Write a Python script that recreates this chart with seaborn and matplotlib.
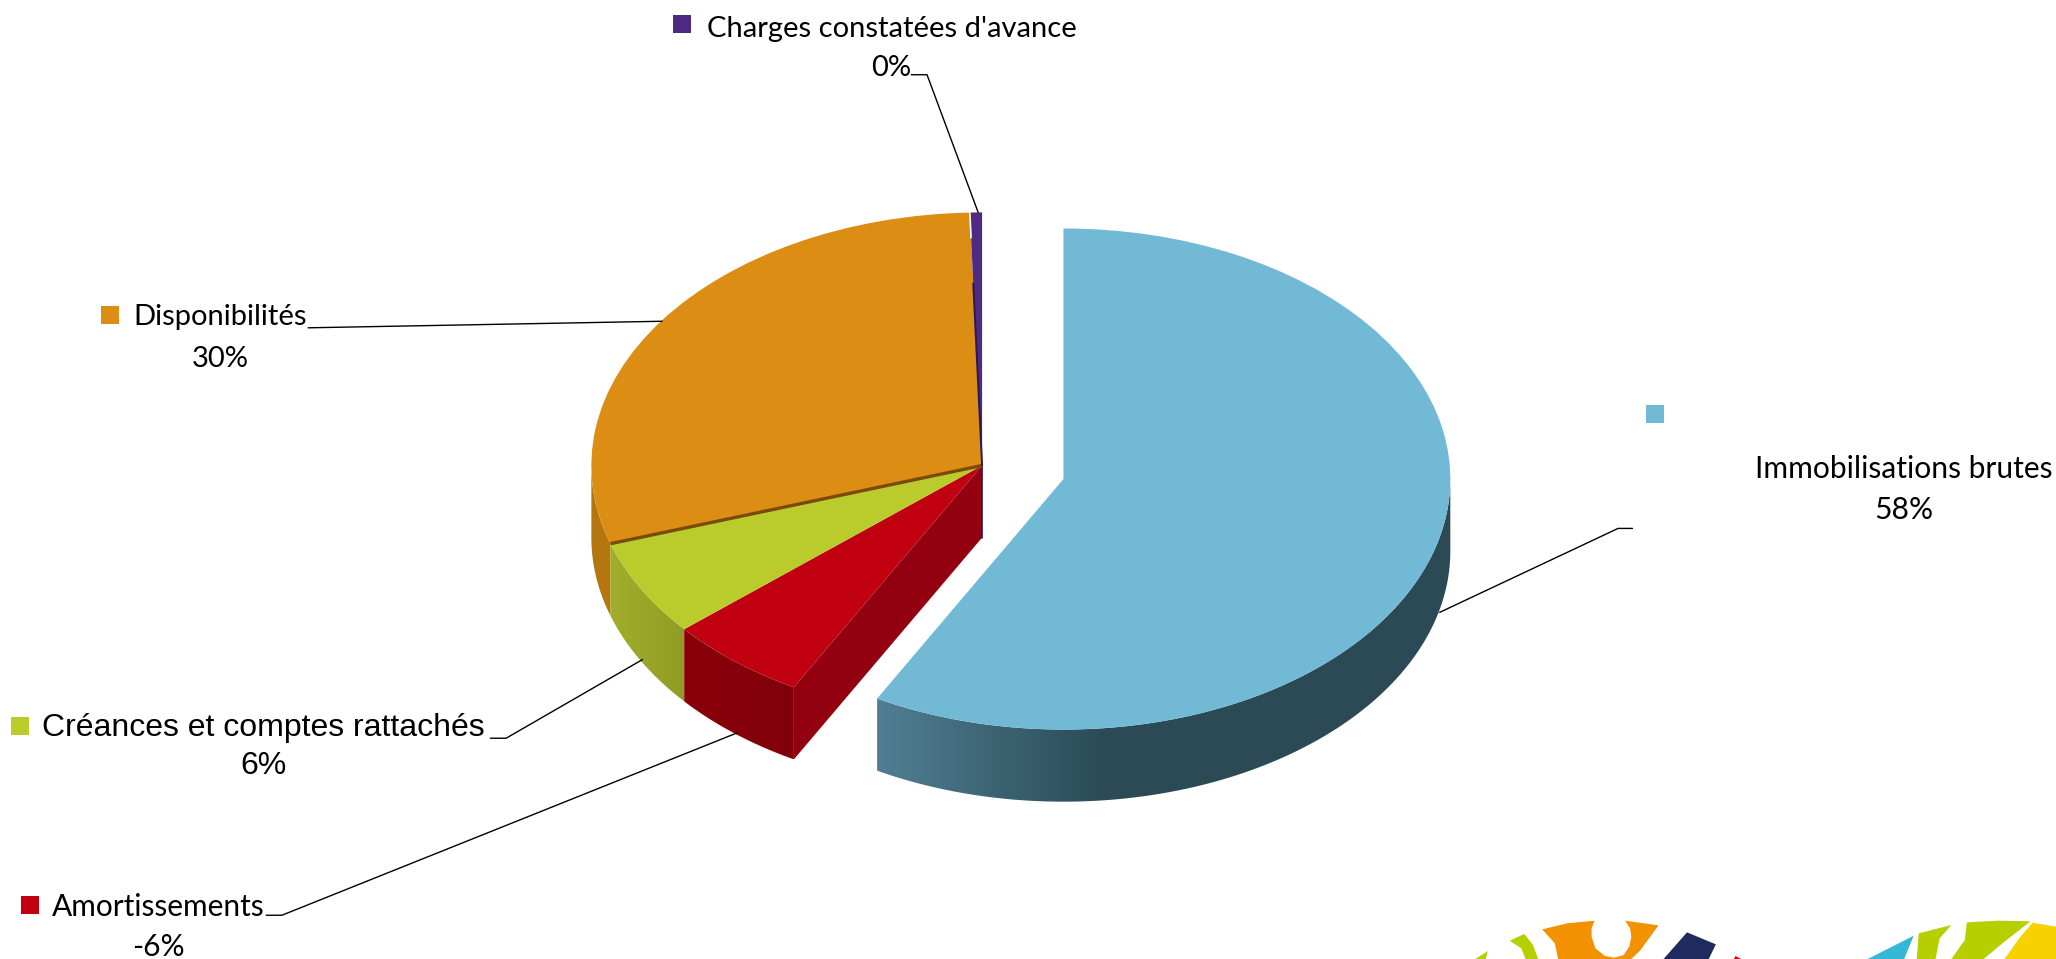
import numpy as np
import matplotlib
matplotlib.use("Agg")
import matplotlib.pyplot as plt
from matplotlib.patches import Polygon
from matplotlib.transforms import Affine2D
import seaborn as sns

categories = ["Immobilisations brutes", "Amortissements", "Créances et comptes rattachés",
              "Disponibilités", "Charges constatées d'avance"]
values = [58, 5.8, 6.2, 29.5, 0.5]
value_labels = ["58%", "-6%", "6%", "30%", "0%"]
explode = [0.215, 0, 0, 0, 0]
colors = ["#71B9D5", "#C00010", "#BACC2C", "#DC8D13", "#4F2A83"]

W, H = 2056, 959
S = 2056 / 1568  # coords below were read on the shrunk picture
CX, CY = 749 * S, 355 * S
RX, RY = 298 * S, 193 * S
DEPTH = 55 / 193
BLUE_R = 0.99

sns.set_theme(style="white")
plt.rcParams["font.family"] = ["Lato", "DejaVu Sans"]

fig = plt.figure(figsize=(W / 100, H / 100), dpi=100)
ax = fig.add_axes([0, 0, 1, 1])
px = Affine2D().scale(S, -S).translate(0, H)


def wall(a0, a1, stops, off=(0, 0), r=1):
    # side of the disc between two angles, left to right gradient clipped to the shape
    t = np.radians(np.linspace(a0, a1, 200))
    xs = off[0] + r * np.cos(t)
    ys = off[1] + r * np.sin(t)
    shape = Polygon(np.c_[np.r_[xs, xs[::-1]], np.r_[ys, ys[::-1] - DEPTH]],
                    closed=True, transform=ax.transData)
    shades = np.array(sns.blend_palette(stops, 256))[None, :, :]
    im = ax.imshow(shades, extent=(xs.min(), xs.max(), ys.min() - DEPTH, ys.max()),
                   aspect="auto", zorder=1, interpolation="bilinear")
    im.set_clip_path(shape)


wedges, _ = ax.pie(values, colors=sns.color_palette(colors), explode=explode, startangle=90,
                   counterclock=False, radius=1, frame=True, wedgeprops={"linewidth": 0})
for w in wedges:
    w.set_zorder(3)
wedges[0].set_radius(BLUE_R)

# slice edges, clockwise from the top
edges = 90 - np.cumsum(values) / sum(values) * 360
blue_end, red_end, green_end, orange_end = edges[:4]
mid = np.radians((90 + blue_end) / 2)
off = (explode[0] * np.cos(mid), explode[0] * np.sin(mid))

# blue wall: gradient up to the front of the disc, then flat dark
wall(blue_end, 0, ["#4F7F93", "#3D6474", "#2B4A56", "#2B4A56", "#2B4A56", "#2B4A56"], off, BLUE_R)
wall(-180, green_end, ["#B5760F", "#B5760F"])
wall(green_end, red_end, ["#A1AF2C", "#909C24"])
wall(red_end, blue_end, ["#8A000B", "#80000A"])

ax.set_aspect("auto")
ax.set_xlim(-CX / RX, (W - CX) / RX)
ax.set_ylim(-(H - CY) / RY, CY / RY)
ax.set_xticks([])
ax.set_yticks([])
for sp in ax.spines.values():
    sp.set_visible(False)

# cut face of the red slice and thin faces next to it
t = np.radians(blue_end)
ax.fill([0, np.cos(t), np.cos(t), 0], [0, np.sin(t), np.sin(t) - DEPTH, -DEPTH],
        color="#93000F", lw=0, zorder=2)
ax.plot([0, 0], [0, -DEPTH], color="#2A1850", lw=1.2, zorder=2)
t = np.radians(green_end)
ax.plot([0, np.cos(t)], [0, np.sin(t)], color="#7A4A0A", lw=2.4, zorder=4, solid_capstyle="butt")
t = np.radians(orange_end)
ax.plot([0, 0.72 * np.cos(t)], [0, 0.72 * np.sin(t)], color="#2A1850", lw=1.4, zorder=4)
ax.plot([0.9 * np.cos(t), np.cos(t)], [0.9 * np.sin(t), np.sin(t)], color="white", lw=1.2, zorder=4)

# labels: square, name, value, leader
label_style = {
    "Immobilisations brutes": dict(sq=(1262, 316), name=(1452, 358), val=(1452, 389), size=21.6,
                                   lead=[(1245, 403), (1234, 403), (1098, 467)]),
    "Amortissements": dict(sq=(22.5, 690.5), name=(121, 692), val=(121, 722), size=21.5,
                           lead=[(203, 698), (215, 698), (562, 559)]),
    "Créances et comptes rattachés": dict(sq=(15.5, 553.5), name=(201, 555), val=(201, 584),
                                          lead=[(374, 563), (386, 563), (490, 503)], font="Liberation Sans", size=23),
    "Disponibilités": dict(sq=(84, 240), name=(168, 242), val=(168, 274),
                           lead=[(235, 250), (505, 245)]),
    "Charges constatées d'avance": dict(sq=(520.5, 18.5), name=(680, 22), val=(680, 52),
                                        lead=[(695, 57), (707, 57), (746, 162)]),
}
for name, val, col in zip(categories, value_labels, colors):
    st = label_style[name]
    font = st.get("font", "Lato")
    size = st.get("size", 21)
    ax.plot(*st["sq"], marker="s", ms=13, color=col, mew=0, transform=px, zorder=5)
    ax.text(*st["name"], name, transform=px, ha="center", va="center", color="black",
            family=font, fontsize=size, zorder=5)
    ax.text(*st["val"], val, transform=px, ha="center", va="center", color="black",
            family=font, fontsize=size, zorder=5)
    xs, ys = zip(*st["lead"])
    ax.plot(xs, ys, color="black", lw=1.0, transform=px, zorder=5)

# logo pieces cut off at the bottom right, read in a crop starting at (1400, 880)
logo = [
    ("#B5CF00", [(180, 237), (210, 213), (205, 237)]),
    ("#B5CF00", [(262, 182), (297, 162), (318, 195), (330, 237), (300, 237), (290, 205)]),
    ("#F39200", [(340, 148), (400, 130), (465, 122), (458, 145), (458, 170), (467, 205), (490, 228),
                 (512, 233), (535, 225), (548, 200), (553, 170), (550, 145), (538, 122),
                 (618, 136), (575, 210), (553, 237), (378, 237), (370, 190)]),
    ("#1F2A5E", [(686, 157), (755, 193), (738, 237), (630, 237)]),
    ("#E2001A", [(798, 237), (802, 228), (815, 237)]),
    ("#35B8D8", [(1118, 237), (1228, 167), (1205, 237)]),
    ("#B5CF00", [(1240, 160), (1318, 135), (1290, 175), (1280, 237), (1235, 237)]),
    ("#B5CF00", [(1355, 127), (1430, 122), (1507, 124), (1440, 190), (1395, 237), (1318, 237), (1350, 180)]),
    ("#F8D100", [(1512, 128), (1568, 140), (1568, 237), (1445, 237), (1480, 175)]),
]
for col, pts in logo:
    lx = [(1400 + p[0] * 656 / 1568) / S for p in pts]
    ly = [(880 + p[1] / 3) / S for p in pts]
    ax.fill(lx, ly, color=col, lw=0, transform=px, zorder=2)

fig.savefig("out.png", dpi=100)
